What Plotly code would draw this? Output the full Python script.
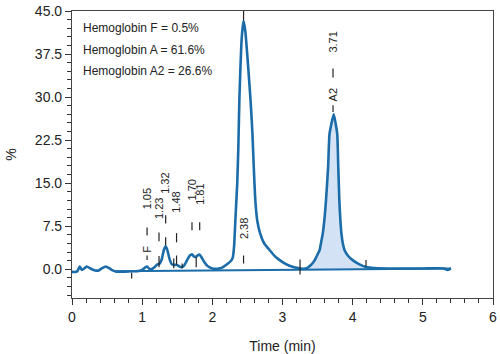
import plotly.graph_objects as go

# chromatogram trace (time in min, signal in %)
time = [0.00, 0.05, 0.08, 0.11, 0.14, 0.17, 0.21, 0.27, 0.33, 0.38, 0.43, 0.48, 0.53, 0.58, 0.63,
        0.75, 0.85, 0.95, 1.00, 1.04, 1.07, 1.10, 1.13, 1.17, 1.21, 1.25, 1.28, 1.31, 1.335, 1.36,
        1.39, 1.42, 1.45, 1.49, 1.53, 1.56, 1.60, 1.64, 1.68, 1.71, 1.74, 1.77, 1.80, 1.82, 1.85,
        1.89, 1.93, 1.97, 2.02, 2.08, 2.14, 2.20, 2.26, 2.29, 2.31, 2.33, 2.355, 2.37, 2.385, 2.40,
        2.42, 2.445, 2.47, 2.50, 2.53, 2.545, 2.57, 2.59, 2.61, 2.64, 2.68, 2.74, 2.82, 2.89, 2.96,
        3.05, 3.14, 3.22, 3.30, 3.36, 3.41, 3.46, 3.50, 3.53, 3.555, 3.575, 3.60, 3.62, 3.65, 3.67,
        3.73, 3.78, 3.795, 3.81, 3.825, 3.84, 3.86, 3.885, 3.93, 4.00, 4.09, 4.19, 4.30, 4.50, 5.00,
        5.30, 5.35, 5.38, 5.40]
signal = [-0.45, -0.45, -0.3, 0.5, -0.1, 0.1, 0.5, 0.1, -0.2, -0.2, 0.2, 0.5, 0.2, -0.2, -0.4,
          -0.4, -0.35, -0.3, -0.1, 0.3, 0.5, 0.1, 0.0, 0.3, 0.8, 1.0, 1.8, 3.4, 4.0, 3.3,
          1.8, 0.9, 0.75, 0.8, 0.5, 0.35, 0.7, 1.6, 2.4, 2.6, 2.2, 2.2, 2.5, 2.55, 2.0,
          1.2, 0.6, 0.3, 0.1, 0.1, 0.3, 0.8, 1.4, 2.0, 4.0, 9.0, 15.0, 21.0, 29.4, 35.0,
          40.5, 43.3, 41.5, 37.0, 32.0, 29.4, 24.0, 18.0, 12.5, 8.5, 6.3, 4.5, 3.3, 2.3, 1.6,
          0.9, 0.45, 0.2, 0.1, 0.3, 0.8, 1.6, 2.6, 3.4, 5.0, 6.3, 9.0, 12.0, 17.8, 23.6,
          27.0, 23.6, 17.8, 12.0, 8.5, 6.2, 4.5, 3.3, 2.4, 1.6, 0.9, 0.4, 0.2, 0.15, 0.15,
          0.15, -0.1, 0.0, 0.15]

# integration baseline
base_t = [0.63, 5.40]
base_v = [-0.35, 0.15]

# shaded HbA2 region
a2_start, a2_end = 3.30, 4.19

# retention-time labels: time, text, text centre y
rt_t = [1.07, 1.24, 1.335, 1.49, 1.71, 1.82, 2.445, 3.72]
rt_text = ["1.05", "1.23", "1.32", "1.48", "1.70", "1.81", "2.38", "3.71"]
rt_y = [12.2, 10.5, 15.0, 11.7, 13.9, 13.1, 7.1, 39.5]
# dash under each retention label (y from, y to)
rt_dash = [(5.9, 7.3), (4.9, 6.4), (8.0, 9.4), (4.7, 6.3), (6.8, 8.2), (6.8, 8.2), (1.0, 2.4), (33.4, 35.0)]

# peak name labels
name_t = [1.07, 3.72]
name_text = ["F", "A2"]
name_y = [3.4, 30.3]
name_dash = [(1.6, 2.4), (27.4, 28.6)]

# other marks: time, y from, y to
mark_t = [0.85, 1.24, 1.335, 1.45, 1.49, 1.57, 1.77, 2.445, 3.25, 4.19]
mark_y = [(-1.6, -0.6), (0.35, 2.3), (4.2, 5.6), (0.2, 1.9), (0.8, 2.4), (0.2, 1.0), (0.35, 2.1),
          (43.4, 45.0), (-0.9, 1.7), (0.5, 1.6)]

results = ["Hemoglobin F = 0.5%", "Hemoglobin A = 61.6%", "Hemoglobin A2 = 26.6%"]
results_y = [42.0, 38.2, 34.5]

yticks = [0, 7.5, 15, 22.5, 30, 37.5, 45]

BLUE = "#1b6ca8"
FONT = "Liberation Sans, Arial, sans-serif"

fig = go.Figure()

# shaded area between curve and baseline
def base_at(t):
    return base_v[0] + (base_v[1] - base_v[0]) * (t - base_t[0]) / (base_t[1] - base_t[0])

fx = [t for t in time if a2_start <= t <= a2_end]
fy = [v for t, v in zip(time, signal) if a2_start <= t <= a2_end]
fig.add_trace(go.Scatter(x=fx + fx[::-1], y=fy + [base_at(t) for t in fx[::-1]],
                         fill="toself", fillcolor="#d3e3f5", line=dict(width=0),
                         mode="lines", hoverinfo="skip", showlegend=False))

fig.add_trace(go.Scatter(x=base_t, y=base_v, mode="lines",
                         line=dict(color=BLUE, width=2), showlegend=False))
fig.add_trace(go.Scatter(x=time, y=signal, mode="lines",
                         line=dict(color=BLUE, width=2.6, shape="spline", smoothing=0.4),
                         showlegend=False))

# dashes
dx, dy = [], []
for t, (a, b) in list(zip(rt_t, rt_dash)) + list(zip(name_t, name_dash)) + list(zip(mark_t, mark_y)):
    dx += [t, t, None]
    dy += [a, b, None]
fig.add_trace(go.Scatter(x=dx, y=dy, mode="lines", line=dict(color="#222222", width=1.2),
                         showlegend=False, hoverinfo="skip"))

for t, s, y in zip(rt_t + name_t, rt_text + name_text, rt_y + name_y):
    fig.add_annotation(x=t, y=y, text=s, textangle=-90, showarrow=False,
                       font=dict(family=FONT, size=11, color="#222222"),
                       xanchor="center", yanchor="middle")

for s, y in zip(results, results_y):
    fig.add_annotation(x=0.13, y=y, text=s, showarrow=False, xanchor="left", yanchor="middle",
                       font=dict(family=FONT, size=12, color="#222222"))

fig.update_layout(
    width=500, height=354,
    margin=dict(l=72, r=7, t=11, b=56, autoexpand=False),
    plot_bgcolor="white", paper_bgcolor="white",
    font=dict(family=FONT, size=14, color="#222222"),
    showlegend=False,
)
fig.update_xaxes(range=[0, 6], dtick=1, ticks="outside", ticklen=6, tickcolor="#333",
                 showline=True, linecolor="#444", linewidth=1.2, mirror=True,
                 showgrid=False, zeroline=False, automargin=False,
                 minor=dict(dtick=0.2, ticks="outside", ticklen=4, tickcolor="#333"),
                 title=dict(text="Time (min)", font=dict(size=14), standoff=17))
fig.update_yaxes(range=[-5, 45], tickvals=yticks, tickformat=".1f", ticks="outside", ticklen=6,
                 tickcolor="#333", showline=True, linecolor="#444", linewidth=1.2, mirror=True,
                 showgrid=False, zeroline=False, automargin=False,
                 minor=dict(tick0=0, dtick=1.5, ticks="outside", ticklen=4, tickcolor="#333"),
                 title=dict(text="%", font=dict(size=14), standoff=14))

fig.write_html("out.html")
